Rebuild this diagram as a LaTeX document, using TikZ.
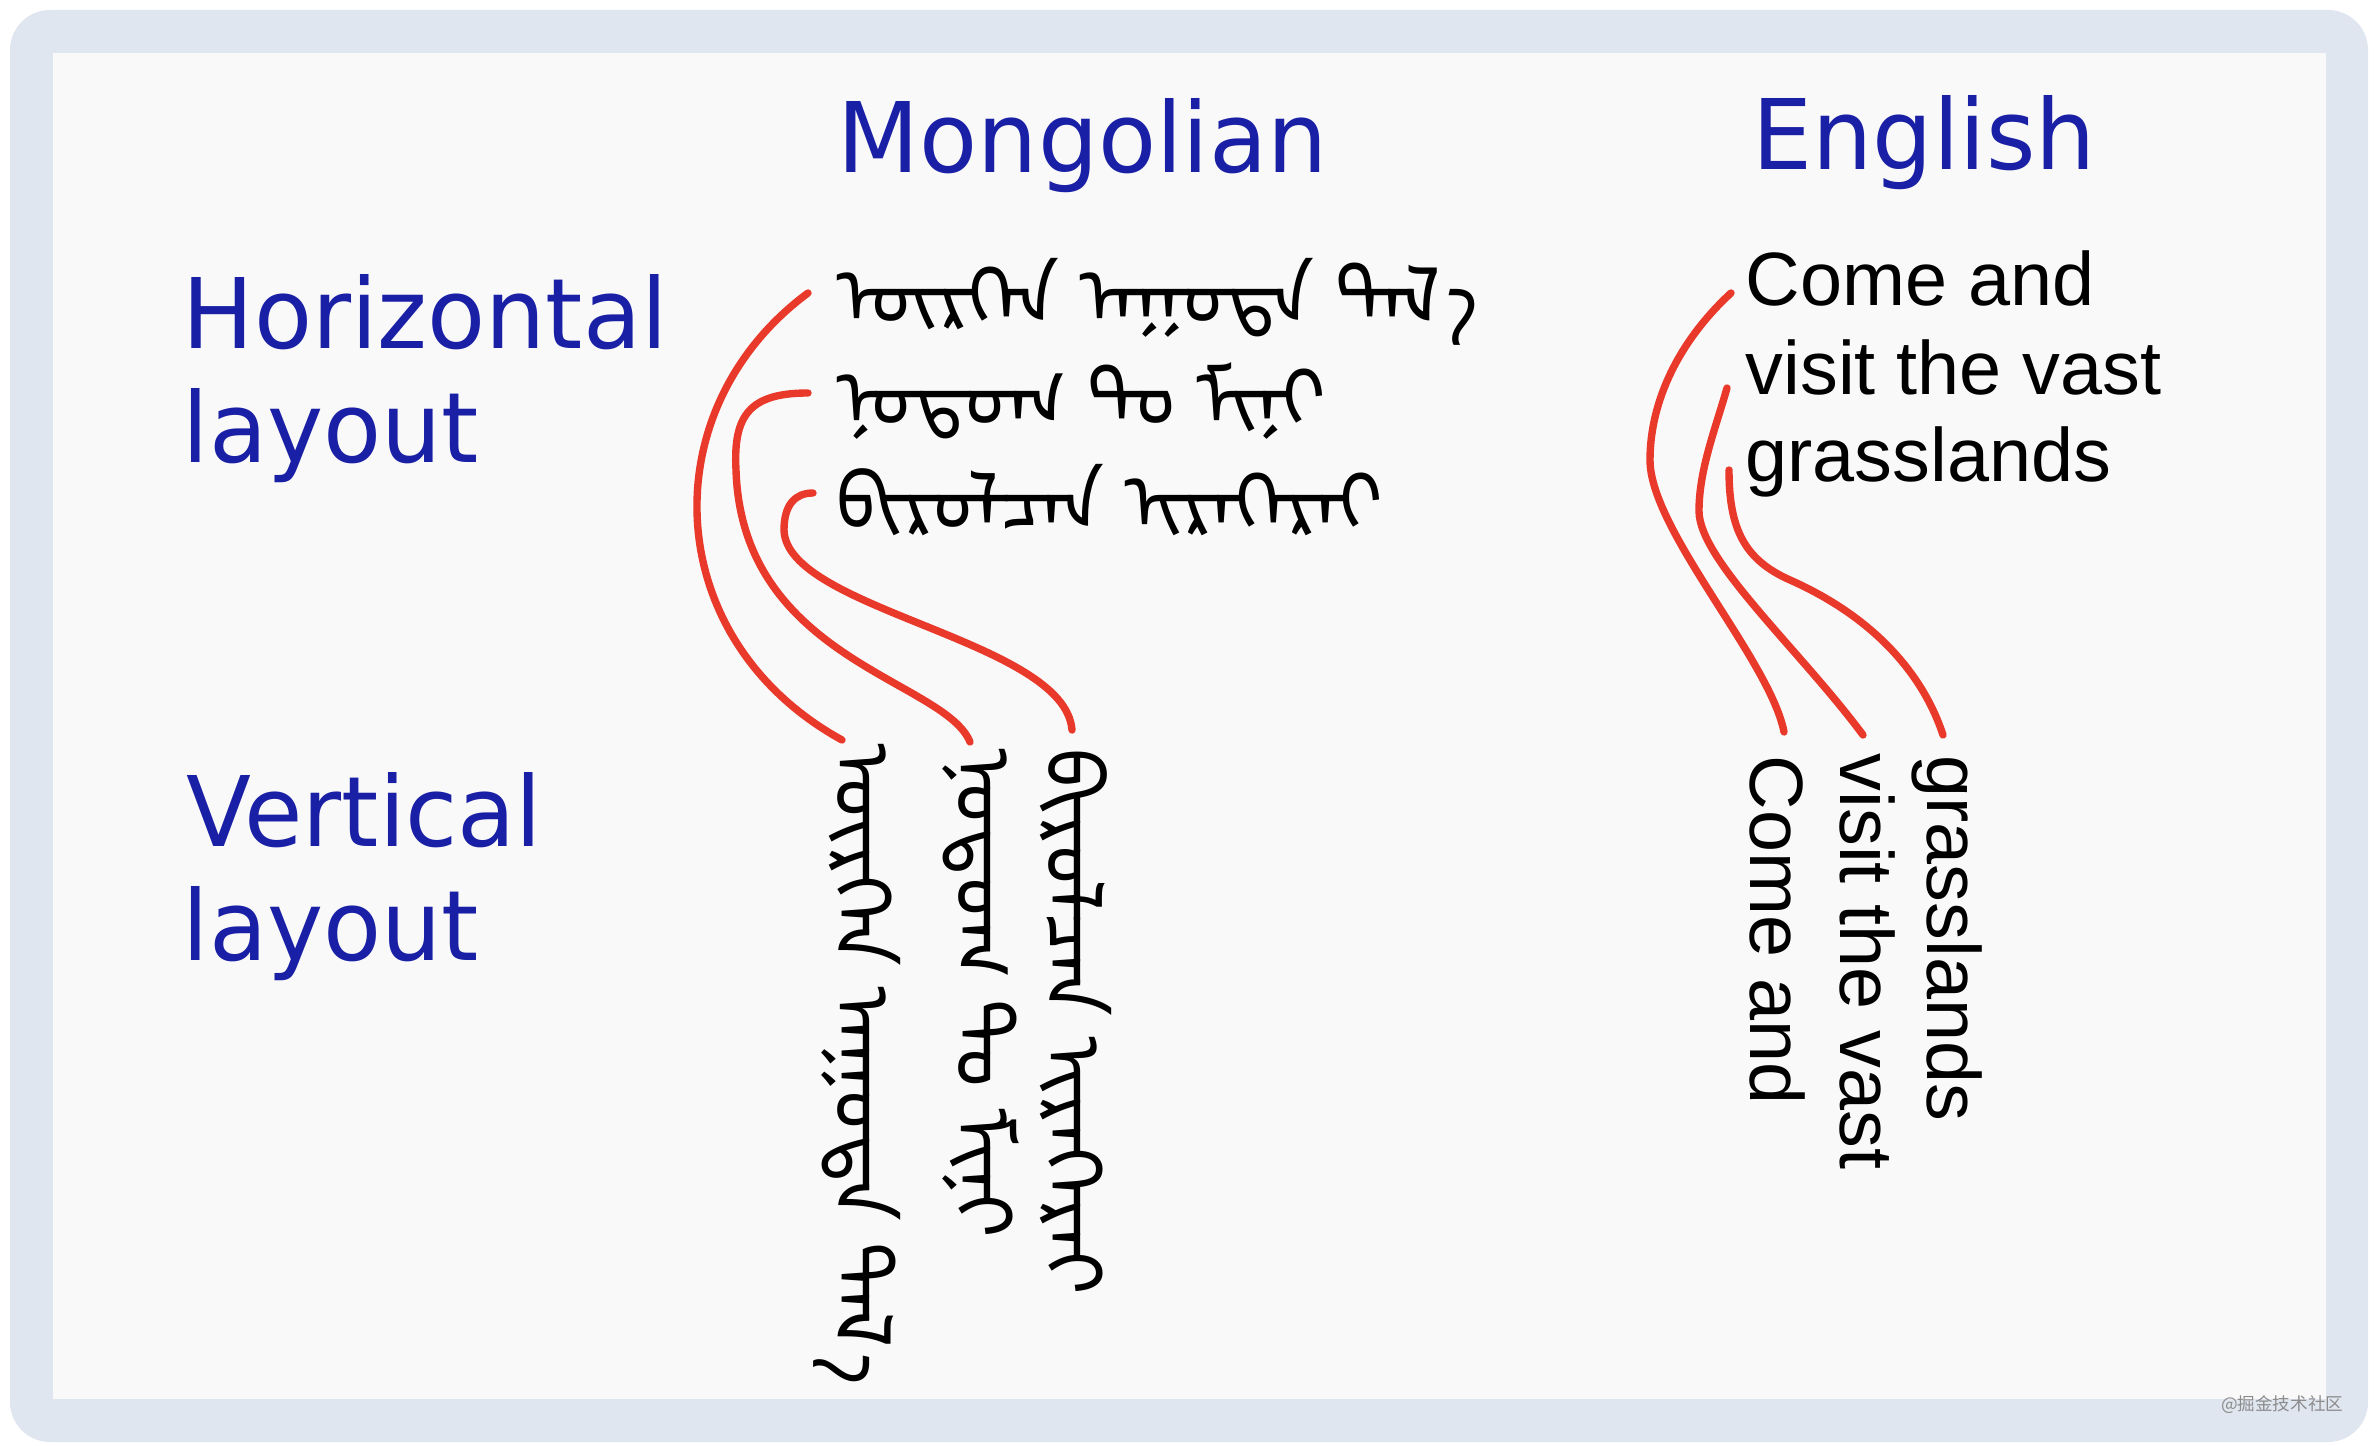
\documentclass[tikz,border=0pt]{standalone}
\usepackage{fontspec}
\usepackage{xcolor}
\usepackage{tikz}
\usetikzlibrary{calc,positioning}
\newfontfamily\headfont[FakeStretch=0.975]{DejaVu Sans}
\newfontfamily\latnfont{Liberation Sans}
\newfontfamily\mongfont[Script=Mongolian]{Noto Sans Mongolian}
\newfontfamily\cjkfont{Noto Sans CJK SC}
\definecolor{frameblue}{RGB}{223,230,239}
\definecolor{paper}{RGB}{249,249,249}
\definecolor{headblue}{RGB}{26,32,165}
\definecolor{linkred}{RGB}{232,57,43}

\begin{document}
\begin{tikzpicture}[x=0.01cm,y=-0.01cm,line join=round,line cap=round,
  head/.style={font=\headfont\fontsize{27.7}{33}\selectfont,text=headblue,inner sep=0,anchor=base west},
  eng/.style={font=\latnfont\fontsize{21.5}{25}\selectfont,inner sep=0,anchor=base west},
  mong/.style={font=\mongfont\fontsize{22.5}{27}\selectfont,inner sep=0,anchor=base west},
  link/.style={draw=linkred,line width=2.1pt}]
  \useasboundingbox (0,0) rectangle (2378,1446);
  \fill[white] (0,0) rectangle (2378,1446);
  \fill[frameblue,rounded corners=0.4cm] (10,10) rectangle (2368,1442);
  \fill[paper] (53,53) rectangle (2326,1399);
  % column titles and row titles
  \node[head] (mong) at (837,173) {Mongolian};
  \node[head] (engl) at (1752,170) {English};
  \node[head] (hor1) at (182,349) {Horizontal};
  \node[head] (hor2) at (182,463) {layout};
  \node[head] (ver1) at (186,846) {Vertical};
  \node[head] (ver2) at (182,960) {layout};
  % mongolian, horizontal
  \node[mong] (m1) at (836,325) {^^^^1825^^^^1837^^^^182d^^^^1821^^^^1828 ^^^^1820^^^^182d^^^^1824^^^^1833^^^^1820 ^^^^1832^^^^1820^^^^182f^^^^180e^^^^1820};
  \node[mong] (m2) at (836,427) {^^^^1828^^^^1824^^^^1832^^^^1824^^^^182d ^^^^1832^^^^1824 ^^^^182e^^^^1822^^^^1828^^^^1822};
  \node[mong] (m3) at (836,531) {^^^^182a^^^^1822^^^^1837^^^^1824^^^^182f^^^^1834^^^^1820^^^^1828 ^^^^1822^^^^1837^^^^1821^^^^182d^^^^1821^^^^1837^^^^1821^^^^1822};
  % mongolian, vertical
  \node[mong,rotate=-90] (c1) at (834,743) {^^^^1825^^^^1837^^^^182d^^^^1821^^^^1828 ^^^^1820^^^^182d^^^^1824^^^^1833^^^^1820 ^^^^1832^^^^1820^^^^182f^^^^180e^^^^1820};
  \node[mong,rotate=-90] (c2) at (955,748) {^^^^1828^^^^1824^^^^1832^^^^1824^^^^182d ^^^^1832^^^^1824 ^^^^182e^^^^1822^^^^1828^^^^1822};
  \node[mong,rotate=-90] (c3) at (1045,748) {^^^^182a^^^^1822^^^^1837^^^^1824^^^^182f^^^^1834^^^^1820^^^^1828 ^^^^1822^^^^1837^^^^1821^^^^182d^^^^1821^^^^1837^^^^1821^^^^1822};
  % english, horizontal and vertical
  \node[eng] (en1) at (1745,306) {Come and};
  \node[eng] (en2) at (1745,395) {visit the vast};
  \node[eng] (en3) at (1745,482) {grasslands};
  \foreach \n/\x/\y/\t in {ev1/1750/755/Come and,ev2/1840/753/visit the vast,ev3/1927/755/grasslands}{
    \node[eng,rotate=-90] (\n) at (\x,\y) {\t};}
  % red links
  \draw[link] ($(m1.base west)+(-28,-32)$) .. controls (650,410) and (660,640) .. ($(c1.base west)+(8,-3)$);
  \draw[link] ($(m2.base west)+(-28,-34)$) .. controls (750,393) and (733,415) .. (736,470)
    .. controls (742,660) and (945,680) .. ($(c2.base west)+(15,-6)$);
  \draw[link] ($(m3.base west)+(-23,-38)$) .. controls (795,493) and (784,505) .. (784,530)
    .. controls (786,610) and (1065,640) .. ($(c3.base west)+(27,-18)$);
  \draw[link] ($(en1.base west)+(-14,-13)$) .. controls (1680,340) and (1650,400) .. (1650,460)
    .. controls (1650,530) and (1770,660) .. ($(ev1.base west)+(34,-23)$);
  \draw[link] ($(en2.base west)+(-18,-7)$) .. controls (1715,430) and (1699,470) .. (1699,511)
    .. controls (1699,560) and (1800,650) .. ($(ev2.base west)+(23,-18)$);
  \draw[link] ($(en3.base west)+(-16,-12)$) .. controls (1729,530) and (1745,560) .. (1790,580)
    .. controls (1880,620) and (1925,680) .. ($(ev3.base west)+(16,-20)$);
  \node[font=\cjkfont\fontsize{5}{6}\selectfont,text=black!45,anchor=east,inner sep=0] (wm) at (2344,1405) {@掘金技术社区};
\end{tikzpicture}
\end{document}
